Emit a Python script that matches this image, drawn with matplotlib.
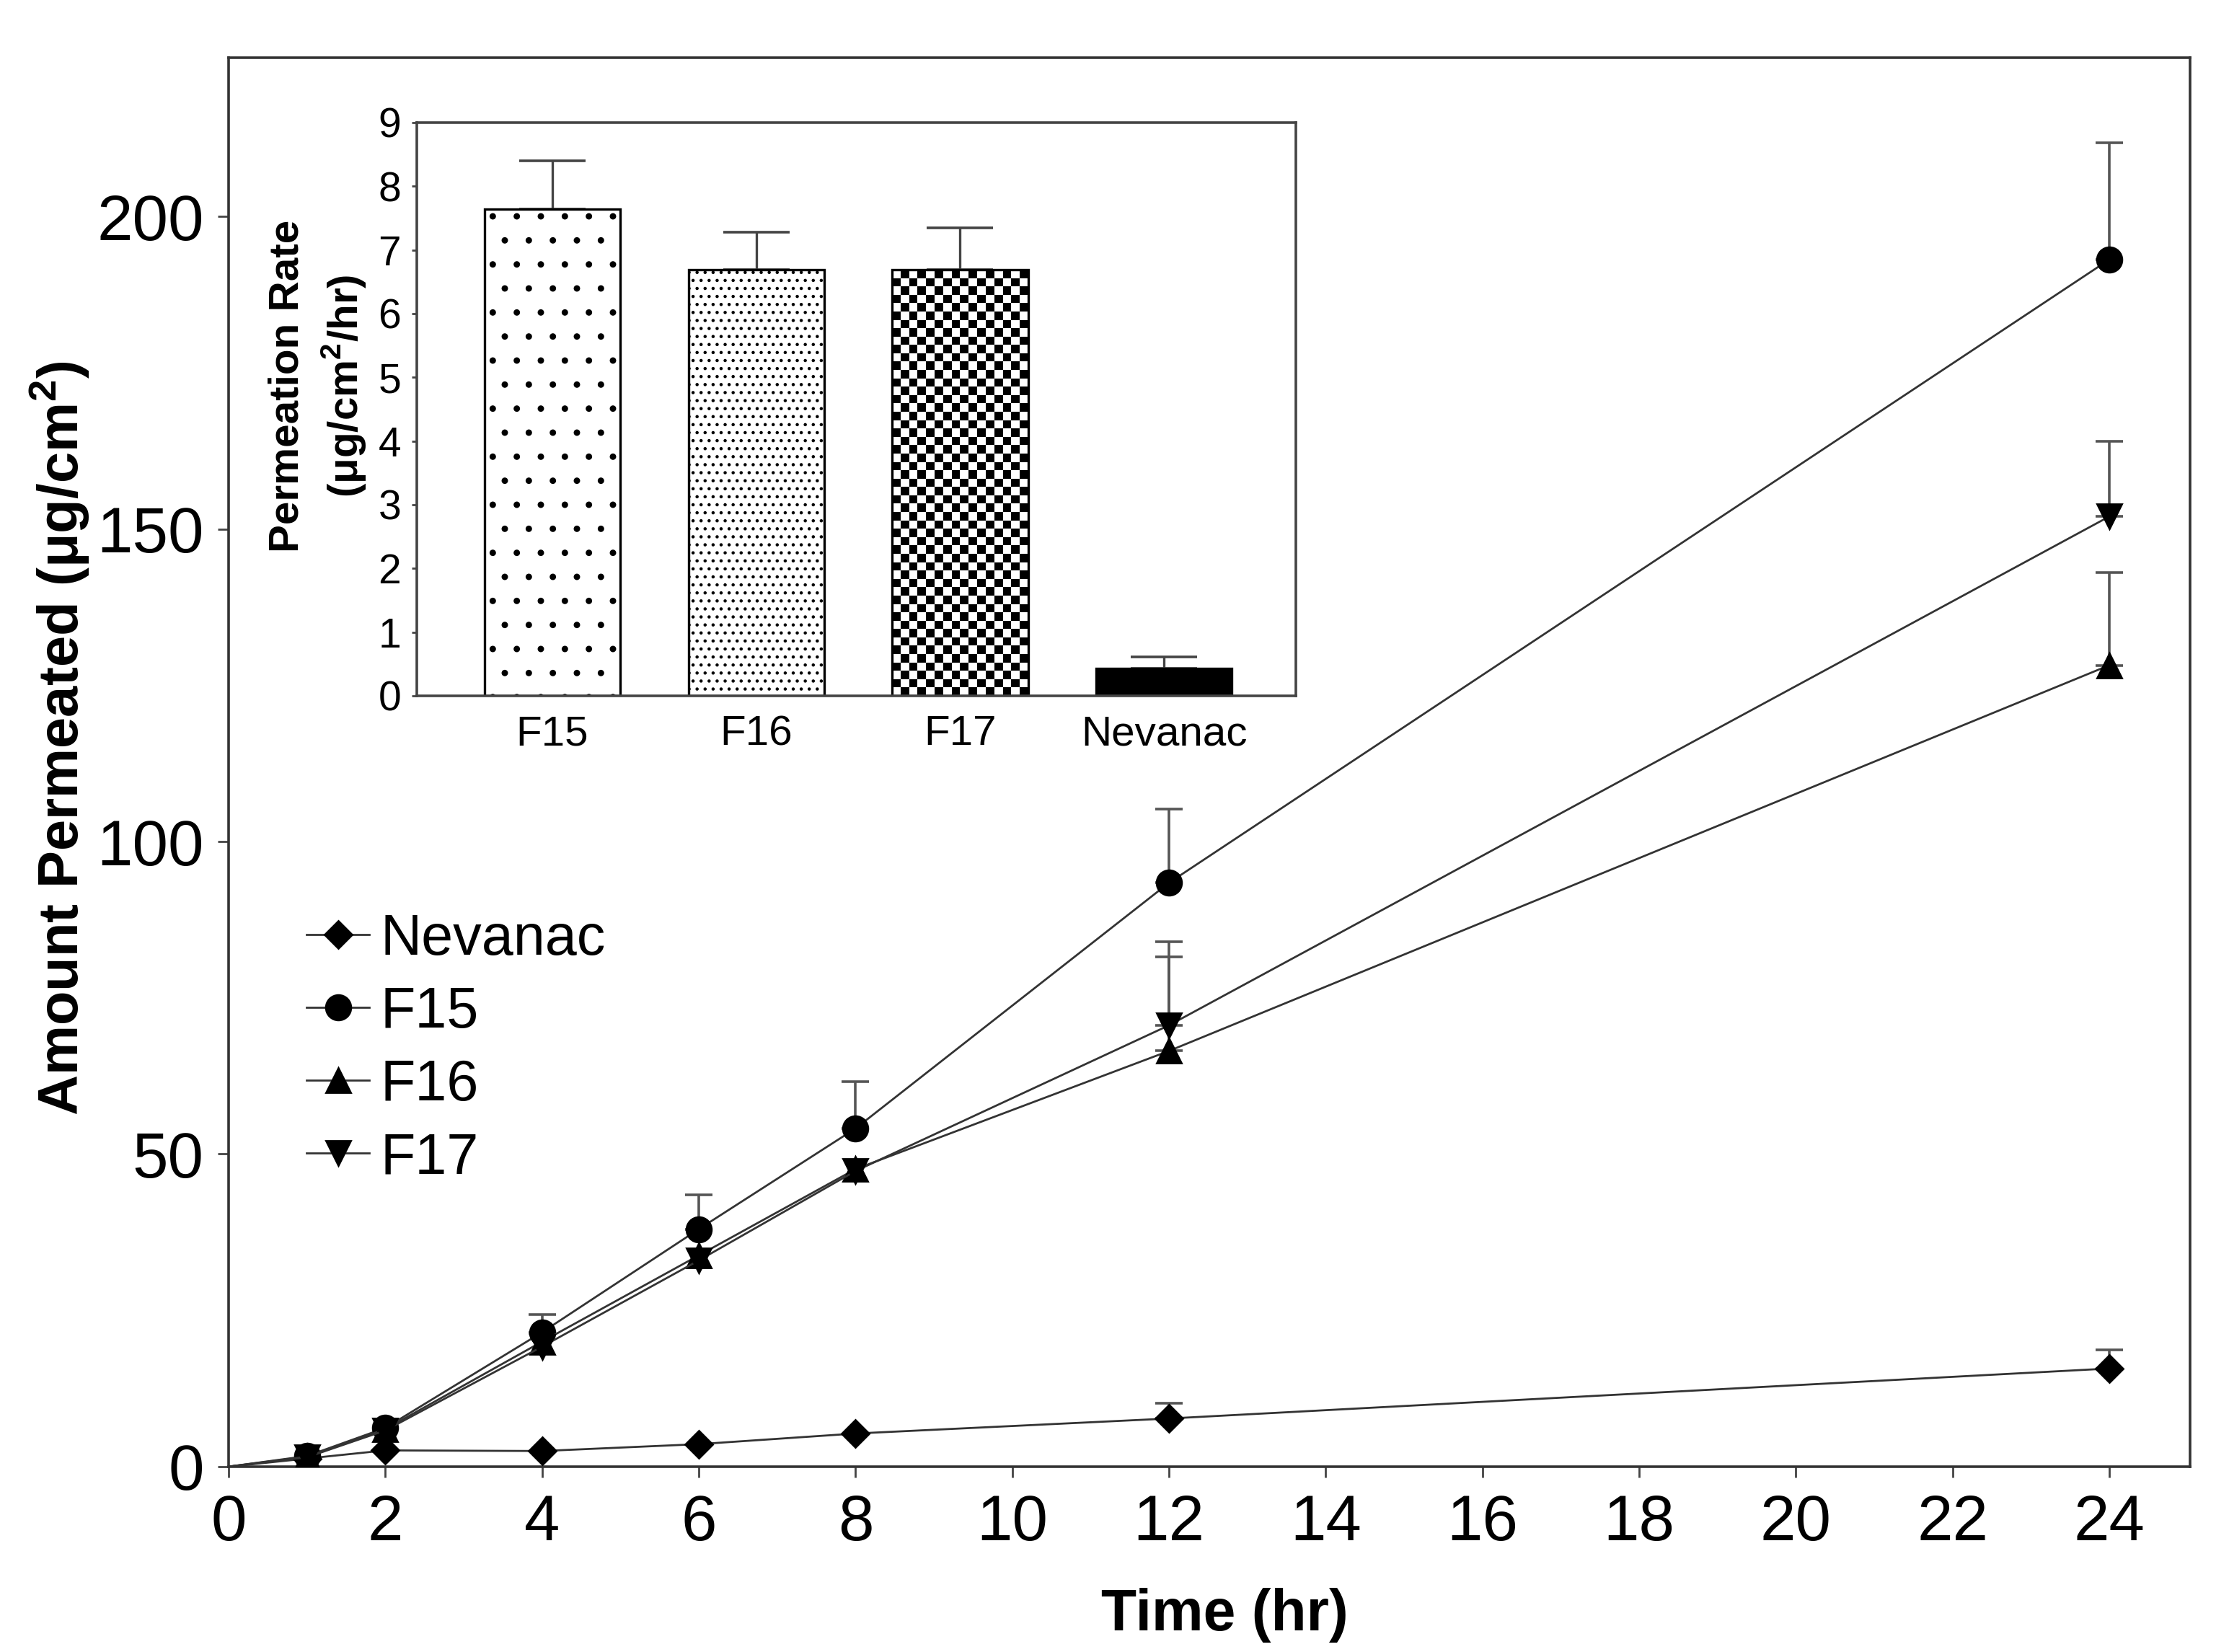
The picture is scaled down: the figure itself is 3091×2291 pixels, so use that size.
import numpy as np
import matplotlib
matplotlib.use('Agg')
import matplotlib.pyplot as plt

plt.rcParams['font.family'] = ['Liberation Sans', 'DejaVu Sans']
plt.rcParams['mathtext.fontset'] = 'custom'
plt.rcParams['mathtext.rm'] = 'Liberation Sans'
plt.rcParams['mathtext.bf'] = 'Liberation Sans:bold'
plt.rcParams['hatch.linewidth'] = 0.8

# main plot: cumulative amount permeated vs time
time = [0, 1, 2, 4, 6, 8, 12, 24]
nevanac = [0, 1.3, 2.6, 2.5, 3.6, 5.3, 7.7, 15.7]
nevanac_err = [0, 0, 0, 0, 0, 0, 2.5, 3.0]
f15 = [0, 1.7, 6.2, 21.5, 38.0, 54.1, 93.4, 193.1]
f15_err = [0, 0, 0, 2.8, 5.5, 7.5, 11.8, 18.7]
f16 = [0, 1.6, 6.0, 20.0, 33.8, 47.6, 66.5, 128.2]
f16_err = [0, 0, 0, 0, 0, 0, 15.1, 14.8]
f17 = [0, 1.5, 5.8, 19.2, 33.0, 47.3, 70.6, 152.0]
f17_err = [0, 0, 0, 0, 0, 0, 13.4, 12.0]

# inset: permeation rate
formulations = ['F15', 'F16', 'F17', 'Nevanac']
rate = [7.64, 6.69, 6.69, 0.43]
rate_err = [0.76, 0.59, 0.66, 0.18]

fig = plt.figure(figsize=(15.455, 11.455), dpi=200)
ax = fig.add_axes([0.1026, 0.1122, 0.8799, 0.8529])

series = [
    ('Nevanac', nevanac, nevanac_err, 'D', 9.5),
    ('F15', f15, f15_err, 'o', 12.5),
    ('F16', f16, f16_err, '^', 12.5),
    ('F17', f17, f17_err, 'v', 12.5),
]
handles = []
for name, vals, err, mk, ms in series:
    idx = [i for i in range(len(err)) if err[i] > 0]
    ex = [time[i] for i in idx]
    ey = [vals[i] for i in idx]
    ee = [err[i] for i in idx]
    ax.errorbar(ex, ey, yerr=[np.zeros(len(ee)), ee],
                fmt='none', ecolor='#555555', elinewidth=1.3, capsize=6.8,
                capthick=1.3, zorder=2)
    line, = ax.plot(time, vals, color='#333333', lw=1.0, marker=mk, ms=ms,
                    mfc='black', mec='black', markevery=list(range(1, len(time))),
                    label=name, zorder=3)
    handles.append(line)

ax.set_xlim(0, 25.03)
ax.set_ylim(0, 225.4)
ax.set_xticks(range(0, 25, 2))
ax.set_yticks([0, 50, 100, 150, 200])
ax.tick_params(axis='both', direction='out', length=5.4, width=1.0,
               color='#444444', labelsize=32)
ax.tick_params(axis='x', pad=8)
ax.tick_params(axis='y', pad=7)
for sp in ax.spines.values():
    sp.set_color('#333333')
    sp.set_linewidth(1.3)

ax.set_xlabel('Time (hr)', fontsize=29, fontweight='bold')
ax.xaxis.set_label_coords(0.508, -0.086)
ax.set_ylabel(r'Amount Permeated (μg/cm$^{\mathbf{2}}$)', fontsize=28, fontweight='bold')
ax.yaxis.set_label_coords(-0.07, 0.517)

ax.legend(handles=handles, loc='upper left', bbox_to_anchor=(0.1375, 0.4475),
          bbox_transform=fig.transFigure, frameon=False, fontsize=28.5,
          handlelength=1.1, handletextpad=0.2, labelspacing=0.33,
          borderpad=0, borderaxespad=0, numpoints=1)

# inset bar chart
ax_in = fig.add_axes([0.187, 0.5788, 0.3944, 0.3470])
xpos = np.arange(len(formulations))
bars = ax_in.bar(xpos, rate, width=0.666, color='white', edgecolor='black',
                 linewidth=1.2, zorder=2)
bars[0].set_hatch('.')
bars[1].set_hatch('...')
bars[3].set_facecolor('black')
bars[2].set_facecolor('none')
ax_in.errorbar(xpos, rate, yerr=[np.zeros(len(rate)), rate_err], fmt='none',
               ecolor='#444444', elinewidth=1.2, capsize=16.5, capthick=1.3,
               zorder=1.5)

ax_in.set_xlim(-0.665, 3.647)
ax_in.set_ylim(0, 9)

# checkerboard fill for F17
b = bars[2]
x0, w, h = b.get_x(), b.get_width(), b.get_height()
p0 = ax_in.transData.transform((x0, 0))
p1 = ax_in.transData.transform((x0 + w, h))
ncols = int(round((p1[0] - p0[0]) / 11.5))
nrows = int(round((p1[1] - p0[1]) / 11.5))
checker = np.indices((nrows, ncols)).sum(axis=0) % 2
im = ax_in.imshow(checker, cmap='Greys', extent=(x0, x0 + w, 0, h),
                  aspect='auto', interpolation='nearest', zorder=1.8)
im.set_clip_path(b)
ax_in.set_xlim(-0.665, 3.647)
ax_in.set_ylim(0, 9)

ax_in.set_xticks(xpos)
ax_in.set_xticklabels(formulations)
ax_in.set_yticks(range(0, 10))
ax_in.tick_params(axis='x', length=0, pad=9.5, labelsize=21)
ax_in.tick_params(axis='y', direction='out', length=2.5, width=1.0,
                  pad=5.4, labelsize=20.5, color='#444444')
for sp in ax_in.spines.values():
    sp.set_color('#444444')
    sp.set_linewidth(1.3)
ax_in.set_ylabel('Permeation Rate\n(μg/cm$^{\\mathbf{2}}$/hr)', fontsize=21,
                 fontweight='bold', linespacing=1.35)
ax_in.yaxis.set_label_coords(-0.055, 0.54)

fig.savefig('out.png', dpi=200)
